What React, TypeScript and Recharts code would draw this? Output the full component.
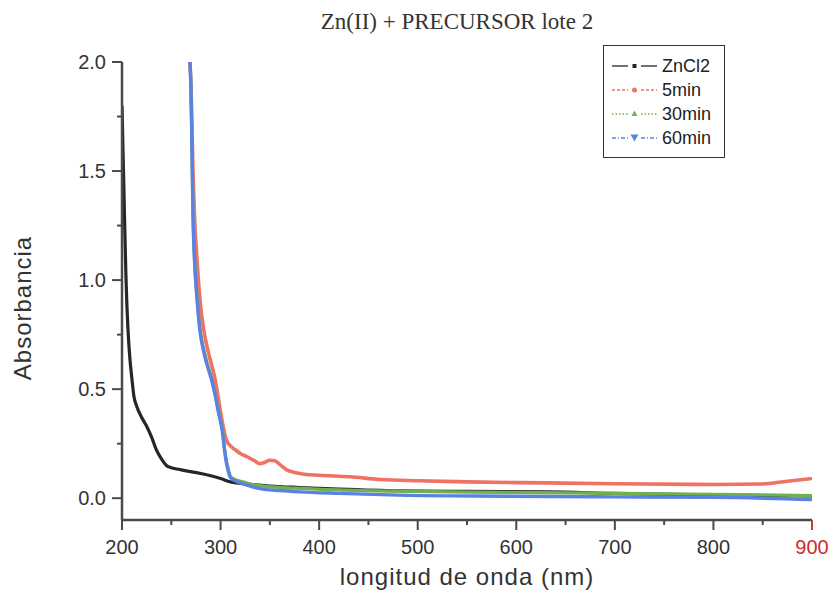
import React from "react";
import { LineChart, Line, XAxis, YAxis, Legend } from "recharts";

// ZnCl2 (black)
const zncl2Nm = [200, 201, 202, 203, 204, 205, 206, 208, 210, 212, 215, 220, 225, 230, 235, 240, 245, 250, 260, 280, 300, 310, 330, 350, 380, 420, 480, 550, 630, 700, 800, 900];
const zncl2Abs = [1.8, 1.6, 1.4, 1.2, 1.02, 0.88, 0.78, 0.64, 0.55, 0.47, 0.42, 0.37, 0.33, 0.28, 0.22, 0.18, 0.15, 0.14, 0.13, 0.113, 0.09, 0.075, 0.064, 0.056, 0.049, 0.042, 0.034, 0.031, 0.029, 0.022, 0.014, 0.01];

// 5min (red)
const min5Nm = [269, 270, 271, 272, 273, 274, 276, 278, 280, 283, 287, 291, 294, 297, 299, 301, 303, 306, 310, 315, 320, 327, 335, 340, 345, 350, 355, 360, 367, 375, 385, 400, 431, 462, 500, 550, 630, 700, 800, 850, 875, 900];
const min5Abs = [2.0, 1.88, 1.7, 1.5, 1.36, 1.25, 1.1, 0.97, 0.87, 0.77, 0.68, 0.61, 0.555, 0.48, 0.42, 0.37, 0.32, 0.266, 0.24, 0.222, 0.205, 0.19, 0.17, 0.158, 0.165, 0.174, 0.172, 0.155, 0.13, 0.118, 0.11, 0.105, 0.098, 0.086, 0.08, 0.075, 0.07, 0.066, 0.063, 0.065, 0.078, 0.09];

// 30min (green)
const min30Nm = [269, 270, 271, 272, 273, 274, 276, 279, 283, 287, 291, 295, 298, 300, 302, 304, 306, 308, 310, 315, 320, 330, 340, 360, 380, 420, 480, 560, 700, 800, 900];
const min30Abs = [2.0, 1.88, 1.6, 1.31, 1.16, 1.06, 0.93, 0.78, 0.68, 0.61, 0.55, 0.47, 0.4, 0.36, 0.31, 0.23, 0.17, 0.13, 0.1, 0.085, 0.078, 0.065, 0.058, 0.05, 0.045, 0.038, 0.032, 0.028, 0.022, 0.018, 0.012];

// 60min (blue)
const min60Nm = [269, 270, 271, 272, 273, 274, 276, 279, 283, 287, 291, 295, 298, 300, 302, 304, 306, 308, 310, 315, 320, 330, 340, 360, 380, 420, 480, 560, 700, 800, 900];
const min60Abs = [2.0, 1.88, 1.6, 1.3, 1.15, 1.05, 0.92, 0.77, 0.67, 0.6, 0.54, 0.46, 0.39, 0.35, 0.3, 0.22, 0.16, 0.12, 0.095, 0.08, 0.07, 0.055, 0.044, 0.035, 0.029, 0.022, 0.014, 0.01, 0.006, 0.004, -0.006];

const xTicks = [200, 250, 300, 350, 400, 450, 500, 550, 600, 650, 700, 750, 800, 850, 900];
const yTicks = [0, 0.25, 0.5, 0.75, 1, 1.25, 1.5, 1.75, 2];
const seriesNames = ["ZnCl2", "5min", "30min", "60min"];

const toRows = (nm: number[], abs: number[]) => nm.map((x, i) => ({ nm: x, abs: abs[i] }));

const sans = "'Liberation Sans', Arial, sans-serif";
const serif = "'Liberation Serif', 'Times New Roman', serif";
const axisColor = "#4a4a4a";
const textColor = "#333";

const styles = [
    { color: "#262626", dash: undefined, marker: "square", width: 3.2 },
    { color: "#f07262", dash: "3 2", marker: "circle", width: 3.6 },
    { color: "#72b04e", dash: "1.5 2", marker: "up", width: 3.2 },
    { color: "#5a82e4", dash: "4 2 1 2", marker: "down", width: 3.4 },
];

const XTick = (props: any) => {
    const { x, y, payload } = props;
    const v = payload.value;
    const major = v % 100 === 0;
    return (
        <g>
            <line x1={x} x2={x} y1={y} y2={y + (major ? 10 : 5)} stroke={v === 900 ? "#b84040" : axisColor} strokeWidth={2} />
            {major && (
                <text x={x} y={y + 34} textAnchor="middle" fontFamily={sans} fontSize={20} fill={v === 900 ? "#d02a2a" : textColor}>
                    {v}
                </text>
            )}
        </g>
    );
};

const YTick = (props: any) => {
    const { x, y, payload } = props;
    const v = payload.value;
    const major = Math.abs(v * 2 - Math.round(v * 2)) < 1e-6;
    return (
        <g>
            <line x1={x - (major ? 10 : 5)} x2={x} y1={y} y2={y} stroke={axisColor} strokeWidth={2} />
            {major && (
                <text x={x - 16} y={y + 7} textAnchor="end" fontFamily={sans} fontSize={20} fill={textColor}>
                    {v.toFixed(1)}
                </text>
            )}
        </g>
    );
};

const Marker = ({ kind, color }: { kind: string; color: string }) => {
    if (kind === "square") return <rect x={28.5} y={5} width={4} height={4} fill={color} />;
    if (kind === "circle") return <circle cx={30.5} cy={7} r={2.5} fill={color} />;
    if (kind === "up") return <polygon points="30.5,3.5 33.5,9 27.5,9" fill={color} />;
    return <polygon points="26.5,3.5 34.5,3.5 30.5,10.5" fill={color} />;
};

const LegendBox = () => (
    <div
        style={{
            width: 122,
            height: 113,
            boxSizing: "border-box",
            border: "1.5px solid #333",
            background: "#fff",
            paddingTop: 8,
            fontFamily: sans,
            fontSize: 18,
            color: "#222",
        }}
    >
        {seriesNames.map((name, i) => (
            <div key={name} style={{ display: "flex", alignItems: "center", height: 24 }}>
                <svg width={58} height={14} style={{ flex: "none" }}>
                    <line x1={8} x2={24} y1={7} y2={7} stroke={styles[i].color} strokeWidth={1.3} strokeDasharray={styles[i].dash} />
                    <line x1={37} x2={53} y1={7} y2={7} stroke={styles[i].color} strokeWidth={1.3} strokeDasharray={styles[i].dash} />
                    <Marker kind={styles[i].marker} color={styles[i].color} />
                </svg>
                <span style={{ lineHeight: 1 }}>{name}</span>
            </div>
        ))}
    </div>
);

const YTitle = () => (
    <text x={31} y={308} transform="rotate(-90 31 308)" textAnchor="middle" fontFamily={sans} fontSize={24} letterSpacing={1} fill={textColor}>
        Absorbancia
    </text>
);

export default function App() {
    const series = [
        toRows(zncl2Nm, zncl2Abs),
        toRows(min5Nm, min5Abs),
        toRows(min30Nm, min30Abs),
        toRows(min60Nm, min60Abs),
    ];
    return (
        <div style={{ position: "absolute", left: 0, top: 0, width: 832, height: 598, background: "#fff" }}>
            <div
                style={{
                    position: "absolute",
                    left: 457,
                    top: 10,
                    transform: "translateX(-50%)",
                    whiteSpace: "nowrap",
                    fontFamily: serif,
                    fontSize: 23,
                    lineHeight: 1,
                    color: "#333",
                }}
            >
                Zn(II) + PRECURSOR lote 2
            </div>
            <LineChart width={832} height={598} margin={{ top: 62, right: 20, left: 0, bottom: 0 }}>
                <XAxis
                    dataKey="nm"
                    type="number"
                    domain={[200, 900]}
                    ticks={xTicks}
                    interval={0}
                    allowDataOverflow
                    height={78}
                    tickSize={0}
                    tickMargin={0}
                    tickLine={false}
                    tick={<XTick />}
                    axisLine={{ stroke: axisColor, strokeWidth: 2.5 }}
                    label={{
                        value: "longitud de onda (nm)",
                        position: "insideBottom",
                        offset: 13,
                        style: { fontFamily: sans, fontSize: 24, letterSpacing: 1, fill: textColor },
                    }}
                />
                <YAxis
                    type="number"
                    domain={[-0.1, 2.0]}
                    ticks={yTicks}
                    interval={0}
                    allowDataOverflow
                    width={122}
                    tickSize={0}
                    tickMargin={0}
                    tickLine={false}
                    tick={<YTick />}
                    axisLine={{ stroke: axisColor, strokeWidth: 2.5 }}
                    label={{ content: () => <YTitle /> }}
                />
                <Legend
                    layout="vertical"
                    align="center"
                    verticalAlign="middle"
                    content={() => <LegendBox />}
                    wrapperStyle={{ left: 603, top: 45, width: 122, height: 113 }}
                />
                {series.map((rows, i) => (
                    <Line
                        key={seriesNames[i]}
                        data={rows}
                        dataKey="abs"
                        name={seriesNames[i]}
                        type="monotone"
                        stroke={styles[i].color}
                        strokeWidth={styles[i].width}
                        dot={false}
                        isAnimationActive={false}
                    />
                ))}
            </LineChart>
        </div>
    );
}
